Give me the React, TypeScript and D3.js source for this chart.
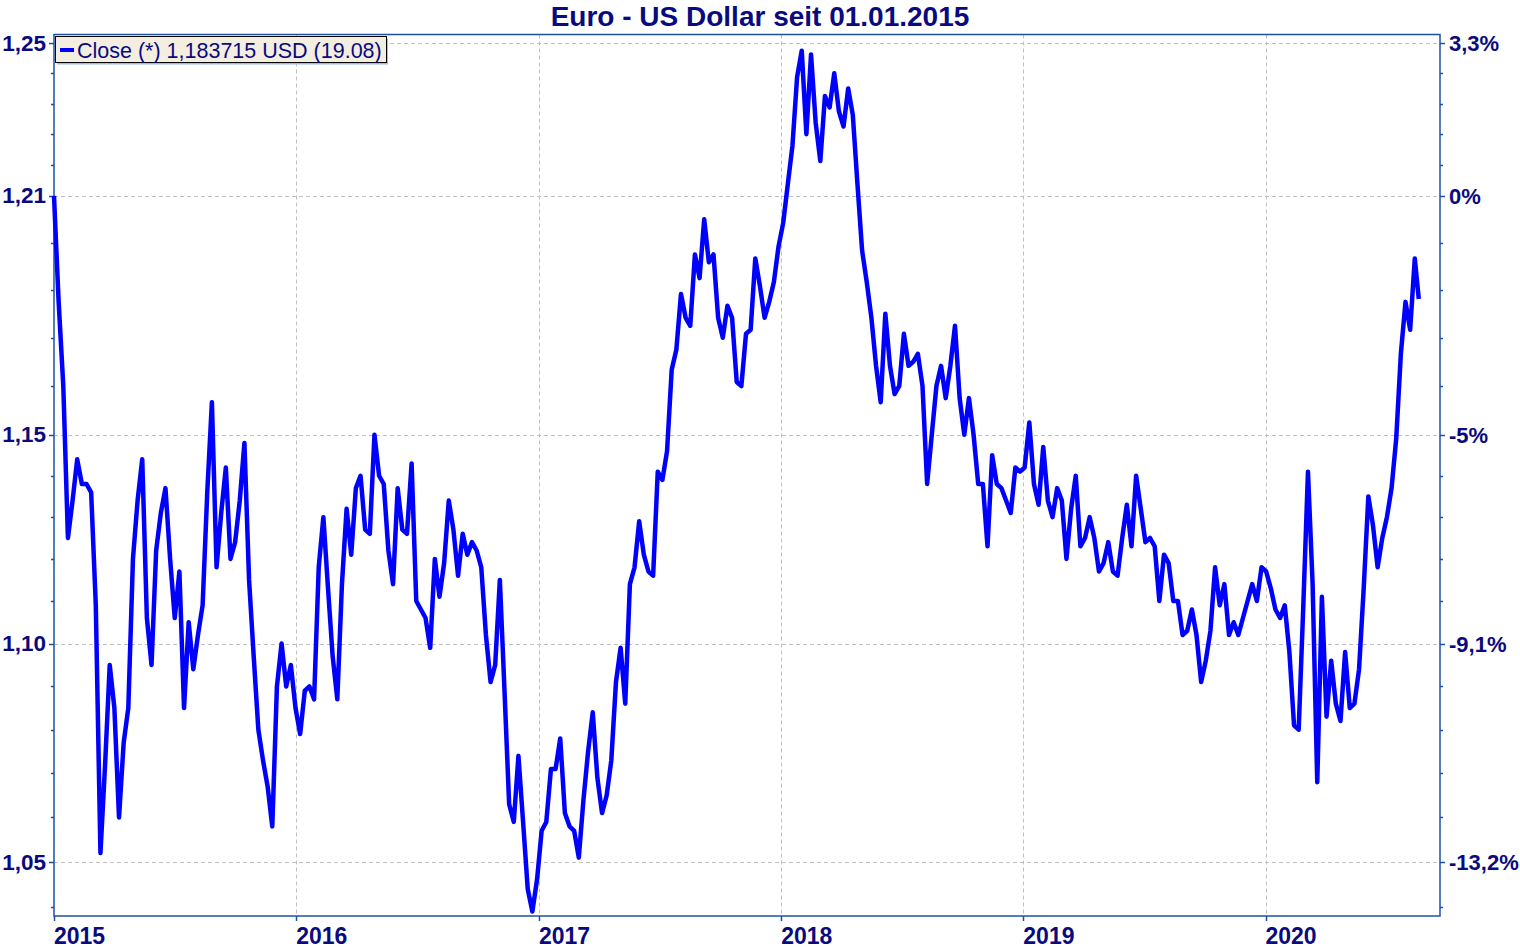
import React, { useEffect, useRef } from 'react';
import * as d3 from 'd3';

// weekly closes, one value every 7 days from 01.01.2015
const close2015 = [
  1.210, 1.183, 1.162, 1.125, 1.134, 1.144, 1.138, 1.138, 1.136, 1.109, 1.052, 1.072, 1.095,
  1.085, 1.060, 1.077, 1.085, 1.120, 1.134, 1.144, 1.106, 1.095, 1.122, 1.131, 1.137, 1.120,
  1.106, 1.117, 1.085, 1.105, 1.094, 1.102, 1.109, 1.136, 1.158, 1.118, 1.131, 1.142, 1.120,
  1.124, 1.134, 1.148, 1.115, 1.097, 1.080, 1.073, 1.067, 1.058, 1.090, 1.100, 1.090, 1.095,
];
const close2016 = [
  1.085, 1.079, 1.089, 1.090, 1.087, 1.118, 1.130, 1.113, 1.097, 1.087, 1.114, 1.132, 1.121,
  1.137, 1.140, 1.127, 1.126, 1.150, 1.140, 1.138, 1.122, 1.114, 1.137, 1.127, 1.126, 1.143,
  1.110, 1.108, 1.106, 1.099, 1.120, 1.111, 1.119, 1.134, 1.127, 1.116, 1.126, 1.121, 1.124,
  1.122, 1.118, 1.102, 1.091, 1.095, 1.115, 1.089, 1.063, 1.059, 1.074, 1.059, 1.044, 1.039,
];
const close2017 = [
  1.046, 1.057, 1.059, 1.071, 1.071, 1.078, 1.061, 1.058, 1.057, 1.051, 1.064, 1.075, 1.084,
  1.069, 1.061, 1.065, 1.073, 1.091, 1.099, 1.086, 1.114, 1.118, 1.129, 1.121, 1.117, 1.116,
  1.141, 1.139, 1.146, 1.166, 1.171, 1.185, 1.179, 1.177, 1.195, 1.189, 1.204, 1.193, 1.195,
  1.179, 1.174, 1.182, 1.179, 1.163, 1.162, 1.175, 1.176, 1.194, 1.187, 1.179, 1.183, 1.188,
];
const close2018 = [
  1.197, 1.203, 1.213, 1.223, 1.241, 1.248, 1.226, 1.247, 1.229, 1.219, 1.236, 1.233, 1.242,
  1.232, 1.228, 1.238, 1.231, 1.213, 1.196, 1.188, 1.179, 1.167, 1.158, 1.180, 1.167, 1.160,
  1.162, 1.175, 1.167, 1.168, 1.170, 1.162, 1.138, 1.150, 1.162, 1.167, 1.159, 1.167, 1.177,
  1.159, 1.150, 1.159, 1.150, 1.138, 1.138, 1.123, 1.145, 1.138, 1.137, 1.134, 1.131, 1.142,
];
const close2019 = [
  1.141, 1.142, 1.153, 1.138, 1.133, 1.147, 1.134, 1.130, 1.137, 1.134, 1.120, 1.132, 1.140,
  1.123, 1.125, 1.130, 1.125, 1.117, 1.119, 1.124, 1.117, 1.116, 1.125, 1.133, 1.123, 1.140,
  1.132, 1.124, 1.125, 1.123, 1.110, 1.121, 1.119, 1.110, 1.110, 1.102, 1.103, 1.108, 1.102,
  1.091, 1.096, 1.103, 1.118, 1.109, 1.114, 1.102, 1.105, 1.102, 1.106, 1.110, 1.114, 1.110,
];
const close2020 = [
  1.118, 1.117, 1.113, 1.108, 1.106, 1.109, 1.098, 1.081, 1.080, 1.109, 1.141, 1.114, 1.068,
  1.111, 1.083, 1.096, 1.086, 1.082, 1.098, 1.085, 1.086, 1.094, 1.113, 1.135, 1.128, 1.118,
  1.125, 1.130, 1.137, 1.149, 1.170, 1.183, 1.176, 1.194,
];
const lastDate = '2020-08-19';
const lastClose = 1.183715;

const priceTicks = [1.25, 1.21, 1.15, 1.1, 1.05];
const priceLabels = ['1,25', '1,21', '1,15', '1,10', '1,05'];
const pctLabels = ['3,3%', '0%', '-5%', '-9,1%', '-13,2%'];
const years = ['2015', '2016', '2017', '2018', '2019', '2020'];

const title = 'Euro - US Dollar seit 01.01.2015';
const legendText = 'Close (*) 1,183715 USD (19.08)';

const App = () => {
  const svgRef = useRef(null);

  useEffect(() => {
    const width = 1520;
    const height = 950;
    const left = 54, right = 1440, top = 34.5, bottom = 916;
    const navy = '#0a0a80';
    const frame = '#1e50a2';

    const start = new Date(Date.UTC(2015, 0, 1));
    const weekly = [...close2015, ...close2016, ...close2017, ...close2018, ...close2019, ...close2020];
    const data = weekly.map((v, i) => ({ date: d3.utcDay.offset(start, i * 7), value: v }));
    data.push({ date: new Date(lastDate + 'T00:00:00Z'), value: lastClose });

    const x = d3.scaleUtc()
      .domain([start, new Date(Date.UTC(2020, 8, 20))])
      .range([left, right]);
    const y = d3.scaleLog()
      .domain([1.038, 1.2523])
      .range([bottom, top]);

    const svg = d3.select(svgRef.current);
    svg.selectAll('*').remove();
    svg.attr('width', width).attr('height', height);

    svg.append('rect').attr('width', width).attr('height', height).attr('fill', '#fff');

    // grid
    const grid = svg.append('g')
      .attr('stroke', '#c0c0c0')
      .attr('stroke-width', 1)
      .attr('stroke-dasharray', '4,3');
    grid.selectAll('line.h')
      .data(priceTicks)
      .enter()
      .append('line')
      .attr('x1', left).attr('x2', right)
      .attr('y1', (d) => Math.round(y(d)) + 0.5)
      .attr('y2', (d) => Math.round(y(d)) + 0.5);
    const yearDates = years.map((s) => new Date(Date.UTC(+s, 0, 1)));
    grid.selectAll('line.v')
      .data(yearDates.slice(1))
      .enter()
      .append('line')
      .attr('y1', top).attr('y2', bottom)
      .attr('x1', (d) => Math.round(x(d)) + 0.5)
      .attr('x2', (d) => Math.round(x(d)) + 0.5);

    // minor ticks: 5 steps between the labelled prices, plus one below 1,05
    const minor = [];
    for (let k = 0; k < priceTicks.length - 1; k++) {
      const a = priceTicks[k], b = priceTicks[k + 1];
      for (let j = 1; j < 5; j++) minor.push(a + (b - a) * j / 5);
    }
    minor.push(1.04);

    // frame
    svg.append('rect')
      .attr('x', left).attr('y', top)
      .attr('width', right - left).attr('height', bottom - top)
      .attr('fill', 'none')
      .attr('stroke', frame)
      .attr('stroke-width', 1.5);

    const ticks = svg.append('g').attr('stroke', frame).attr('stroke-width', 1.5);
    priceTicks.forEach((p) => {
      const yy = Math.round(y(p)) + 0.5;
      ticks.append('line').attr('x1', left - 5).attr('x2', left).attr('y1', yy).attr('y2', yy);
      ticks.append('line').attr('x1', right).attr('x2', right + 5).attr('y1', yy).attr('y2', yy);
    });
    minor.forEach((p) => {
      const yy = Math.round(y(p)) + 0.5;
      ticks.append('line').attr('x1', left - 3).attr('x2', left).attr('y1', yy).attr('y2', yy);
      ticks.append('line').attr('x1', right).attr('x2', right + 3).attr('y1', yy).attr('y2', yy);
    });
    yearDates.forEach((d) => {
      const xx = Math.round(x(d)) + 0.5;
      ticks.append('line').attr('x1', xx).attr('x2', xx).attr('y1', bottom).attr('y2', bottom + 5);
    });

    // labels
    const font = '"Liberation Sans", Arial, sans-serif';
    svg.append('g')
      .selectAll('text')
      .data(priceTicks)
      .enter()
      .append('text')
      .attr('x', 46)
      .attr('y', (d) => y(d) + 7.5)
      .attr('text-anchor', 'end')
      .attr('font-family', font)
      .attr('font-weight', 'bold')
      .attr('font-size', 22.5)
      .attr('fill', navy)
      .text((d, i) => priceLabels[i]);

    svg.append('g')
      .selectAll('text')
      .data(priceTicks)
      .enter()
      .append('text')
      .attr('x', 1449)
      .attr('y', (d) => y(d) + 8)
      .attr('font-family', font)
      .attr('font-weight', 'bold')
      .attr('font-size', 22)
      .attr('fill', navy)
      .text((d, i) => pctLabels[i]);

    svg.append('g')
      .selectAll('text')
      .data(yearDates)
      .enter()
      .append('text')
      .attr('x', (d) => x(d))
      .attr('y', 944)
      .attr('font-family', font)
      .attr('font-weight', 'bold')
      .attr('font-size', 23)
      .attr('fill', navy)
      .text((d, i) => years[i]);

    svg.append('text')
      .attr('x', 760)
      .attr('y', 26)
      .attr('text-anchor', 'middle')
      .attr('font-family', font)
      .attr('font-weight', 'bold')
      .attr('font-size', 28)
      .attr('fill', navy)
      .text(title);

    // price line
    const line = d3.line()
      .x((d) => x(d.date))
      .y((d) => y(d.value));
    svg.append('path')
      .datum(data)
      .attr('d', line)
      .attr('fill', 'none')
      .attr('stroke', '#0000ff')
      .attr('stroke-width', 4.5)
      .attr('stroke-linejoin', 'round');

    // legend
    const lg = svg.append('g');
    lg.append('rect')
      .attr('x', 57).attr('y', 38.5)
      .attr('width', 331).attr('height', 26)
      .attr('fill', '#9dbbe6');
    lg.append('rect')
      .attr('x', 55.5).attr('y', 36.5)
      .attr('width', 331).attr('height', 26)
      .attr('fill', '#f4eee1')
      .attr('stroke', '#000')
      .attr('stroke-width', 1);
    lg.append('line')
      .attr('x1', 60).attr('x2', 74)
      .attr('y1', 50).attr('y2', 50)
      .attr('stroke', '#0000ff')
      .attr('stroke-width', 4);
    lg.append('text')
      .attr('x', 77)
      .attr('y', 57.5)
      .attr('font-family', font)
      .attr('font-size', 21.5)
      .attr('fill', navy)
      .text(legendText);
  }, []);

  return (
    <svg ref={svgRef} style={{ position: 'absolute', left: 0, top: 0, display: 'block' }}></svg>
  );
};

export default App;
